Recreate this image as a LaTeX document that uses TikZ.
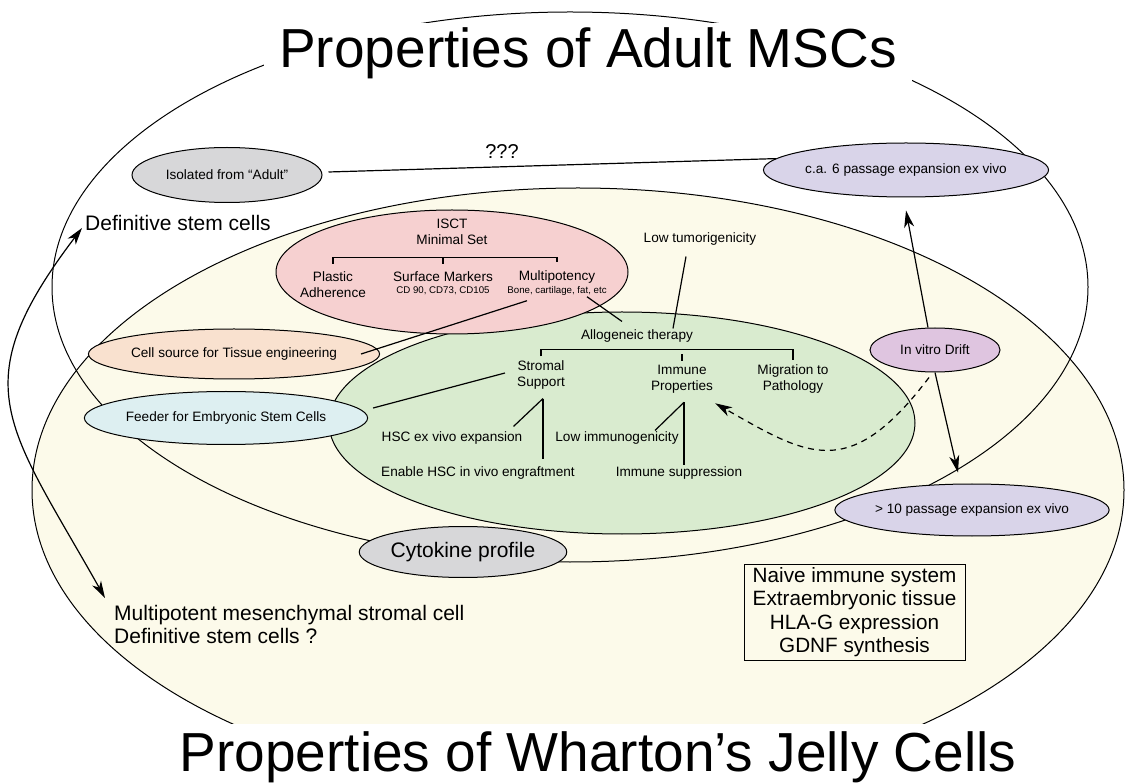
\documentclass[tikz,border=0pt]{standalone}
\usepackage{fontspec}
\setmainfont{Liberation Sans}
\usetikzlibrary{positioning, calc, arrows.meta, shapes.geometric}

\definecolor{cream}{RGB}{252,250,234}
\definecolor{leaf}{RGB}{217,235,207}
\definecolor{rose}{RGB}{246,208,208}
\definecolor{stone}{RGB}{215,215,217}
\definecolor{lilac}{RGB}{217,212,233}
\definecolor{peach}{RGB}{249,225,207}
\definecolor{ice}{RGB}{221,239,241}
\definecolor{mauve}{RGB}{223,197,224}

\tikzset{
  lbl/.style={font=\fontsize{13.6}{16}\selectfont, align=center, inner sep=1pt},
  tinylbl/.style={font=\fontsize{9.7}{11}\selectfont, inner sep=1pt},
  biglbl/.style={font=\fontsize{21}{23.5}\selectfont, inner sep=1pt},
  titlelbl/.style={font=\fontsize{55}{60}\selectfont, fill=white, anchor=base},
  bubble/.style={ellipse, draw, line width=1pt, inner sep=0pt, font=\fontsize{13.6}{16}\selectfont},
  ring/.style={draw, line width=1pt},
  link/.style={line width=1.2pt},
  arr/.style={link, -{Stealth[length=17pt, width=10pt, inset=5pt]}},
}

\begin{document}
\begin{tikzpicture}[x=1pt, y=-1pt]
        \fill[white] (0,0) rectangle (1125,783);
        \useasboundingbox (0,0) rectangle (1125,783);
        % sets
        \path[ring, fill=cream] (578,490) ellipse [x radius=546, y radius=302];
        \path[ring] (570,287) ellipse [x radius=518, y radius=275];
        \path[ring, fill=leaf] (622,423) ellipse [x radius=293, y radius=111];
        \path[ring, fill=rose] (452,272) ellipse [x radius=176, y radius=62];
        % bubbles
        \node[bubble, fill=stone, minimum width=190pt, minimum height=55pt] (iso) at (227,175) {Isolated from “Adult”};
        \node[bubble, fill=lilac, minimum width=260pt, minimum height=54pt] (ca6) at (906,170) {c.a. 6 passage expansion ex vivo};
        \node[bubble, fill=peach, minimum width=258pt, minimum height=50pt] (cellsrc) at (234,354) {Cell source for Tissue engineering};
        \node[bubble, fill=ice, minimum width=260pt, minimum height=53pt] (feeder) at (226,418) {Feeder for Embryonic Stem Cells};
        \node[bubble, biglbl, fill=stone, minimum width=188pt, minimum height=51pt] (cyto) at (463,552) {Cytokine profile};
        \node[bubble, fill=mauve, minimum width=130pt, minimum height=44pt] (drift) at (935,350) {In vitro Drift};
        \node[bubble, fill=lilac, minimum width=260pt, minimum height=52pt] (p10) at (972,510) {> 10 passage expansion ex vivo};
        % labels
        \node[biglbl, anchor=west] (defstem) at (84,223) {Definitive stem cells};
        \node[font=\fontsize{20}{22}\selectfont] (qqq) at (502,152) {???};
        \node[lbl] (isct) at (452,232) {ISCT\\Minimal Set};
        \node[lbl] (plastic) at (333,285) {Plastic\\Adherence};
        \node[lbl] (markers) at (443,277) {Surface Markers};
        \node[tinylbl] (cd) at (443,291) {CD 90, CD73, CD105};
        \node[lbl] (multipot) at (557,277) {Multipotency};
        \node[tinylbl] (bone) at (557,291) {Bone, cartilage, fat, etc};
        \node[lbl] (lowtum) at (700,239) {Low tumorigenicity};
        \node[lbl] (allo) at (637,336) {Allogeneic therapy};
        \node[lbl] (stromal) at (541,375) {Stromal\\Support};
        \node[lbl] (immune) at (682,379) {Immune\\Properties};
        \node[lbl] (migr) at (793,379) {Migration to\\Pathology};
        \node[lbl] (hscexp) at (452,438) {HSC ex vivo expansion};
        \node[lbl] (engraft) at (478,473) {Enable HSC in vivo engraftment};
        \node[lbl] (lowimm) at (617,438) {Low immunogenicity};
        \node[lbl] (immsup) at (679,473) {Immune suppression};
        \node[biglbl, anchor=north west, align=left] (multi) at (113,604) {Multipotent mesenchymal stromal cell\\Definitive stem cells ?};
        \node[draw, line width=1pt, align=center, font=\fontsize{20.7}{23.3}\selectfont, minimum width=221pt, minimum height=96pt, inner sep=1pt] (wjbox) at (854.5,612) {Naive immune system\\Extraembryonic tissue\\HLA-G expression\\GDNF synthesis};
        % brackets
        \draw[link] ([yshift=7pt]plastic.north) -- ++(0,-6) -| ([yshift=7pt]multipot.north);
        \draw[link] ([yshift=7pt]markers.north) -- ++(0,-6);
        \draw[link] ([yshift=3pt]stromal.north) -- ++(0,-7) -| ([yshift=3pt]migr.north);
        \draw[link] ([yshift=3pt]immune.north) -- ++(0,-7);
        % forks
        \coordinate (sfork) at ([xshift=2pt, yshift=-8pt]stromal.south);
        \coordinate (ifork) at ([xshift=2pt, yshift=-8pt]immune.south);
        \draw[link] (sfork) -- ($(sfork |- engraft.north)+(0,-6)$);
        \draw[link] (sfork) -- ($(hscexp.north east)+(-10,-4)$);
        \draw[link] (ifork) -- (ifork |- immsup.north);
        \draw[link] (ifork) -- ($(lowimm.north)+(38,0)$);
        % lines
        \draw[link] ([xshift=6pt, yshift=3pt]iso.east) -- (ca6.175);
        \draw[link] ([xshift=-14pt, yshift=-10pt]lowtum.south) -- ([xshift=36pt]allo.north);
        \draw[link] ([xshift=30pt]bone.south) -- ([xshift=-15pt, yshift=7pt]allo.north);
        \draw[link] ([xshift=-19pt]cellsrc.east) -- ([xshift=-30pt, yshift=-4pt]bone.south);
        \draw[link] ([xshift=5pt, yshift=10pt]feeder.east) -- ([xshift=-11pt, yshift=2pt]stromal.west);
        % arrows
        \draw[arr] ([xshift=-7pt]drift.north) -- ([yshift=-13pt]ca6.south);
        \draw[arr] (drift.south) -- ([xshift=-14pt, yshift=11pt]p10.north);
        \draw[arr, dash pattern=on 6pt off 5pt] ([xshift=-6pt, yshift=-5pt]drift.south) .. controls (849,483) and (808,456) .. ($(immune.south east)+(1,9)$);
        \draw[link, {Stealth[length=17pt, width=10pt, inset=5pt]}-{Stealth[length=17pt, width=10pt, inset=5pt]}] ($(defstem.west)+(-2,5)$) .. controls (-38,386) and (7,424) .. ($(multi.north west)+(-8,-6)$);
        % titles
        \node[titlelbl, inner xsep=15pt, inner ysep=5pt] (adulttitle) at (588,68) {Properties of Adult MSCs};
        \node[titlelbl, inner xsep=10pt, inner ysep=7pt] (wjtitle) at (598,771) {Properties of Wharton’s Jelly Cells};
\end{tikzpicture}
\end{document}
